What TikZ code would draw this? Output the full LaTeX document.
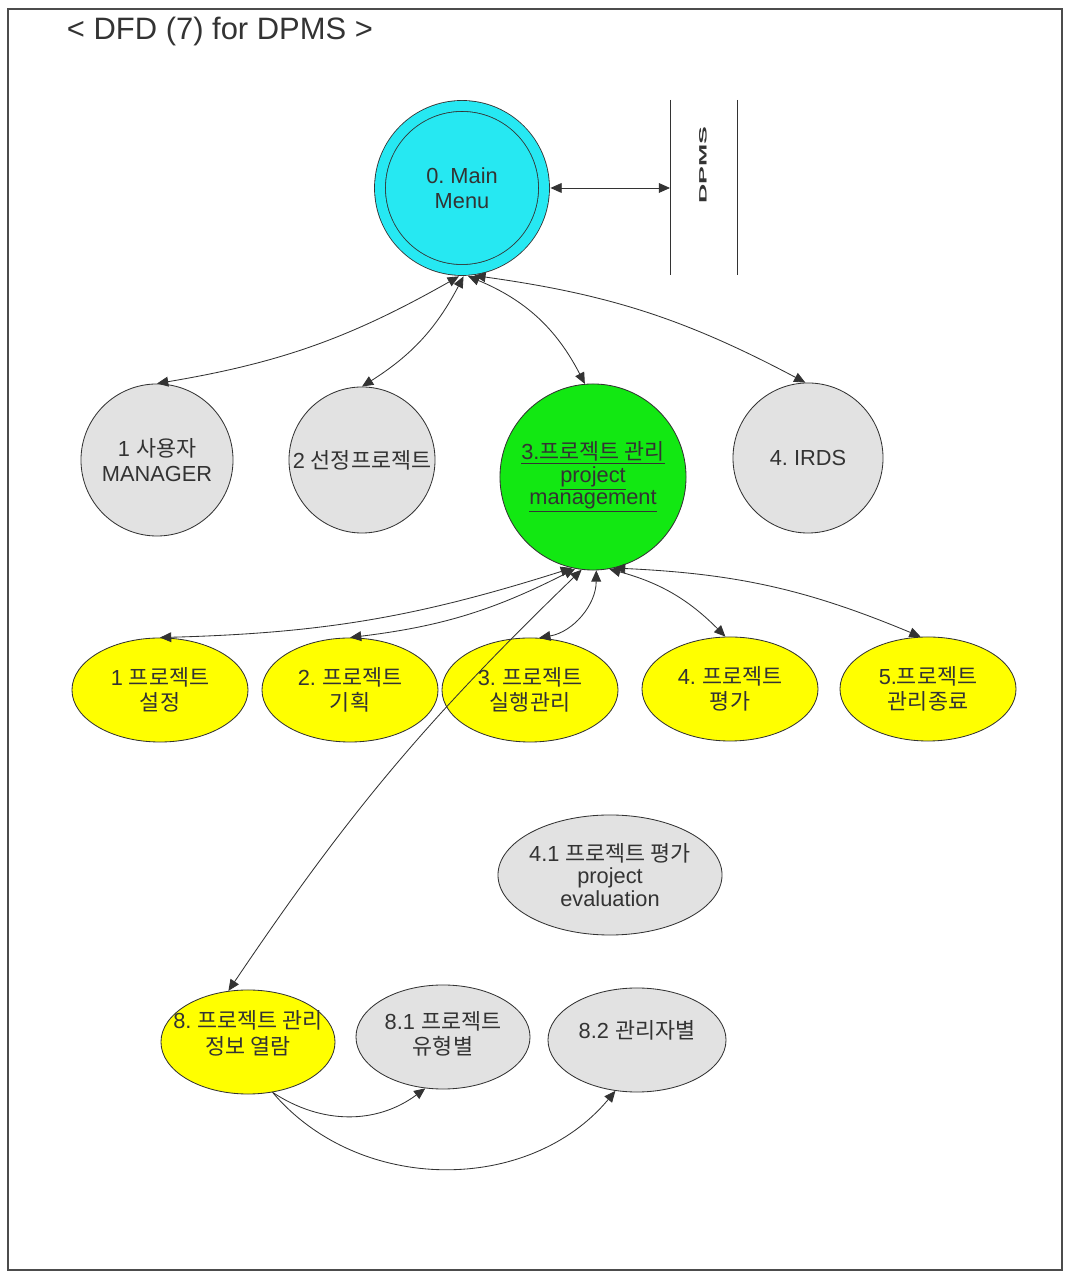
\documentclass[tikz,border=0pt]{standalone}
\usepackage{fontspec}
\setmainfont{Liberation Sans}
\newfontfamily\krfont{Noto Sans CJK KR}
\usetikzlibrary{shapes.geometric, arrows.meta}
\definecolor{menucyan}{RGB}{38,232,242}
\definecolor{pmgreen}{RGB}{18,232,18}
\definecolor{procyellow}{RGB}{255,255,0}
\definecolor{subgray}{RGB}{226,226,226}
\definecolor{inkgray}{RGB}{51,51,51}

\tikzset{
    proc/.style={draw=inkgray, line width=0.6pt, inner sep=0pt},
    disc/.style={proc, circle},
    oval/.style={proc, ellipse, minimum width=4.4cm, minimum height=2.6cm},
    txt/.style={align=center, text=inkgray, font=\fontsize{15.5}{18}\selectfont\frenchspacing},
    flow/.style={draw=inkgray, line width=0.6pt, >={Triangle[length=8pt,width=7pt]}, <->},
    oneway/.style={draw=inkgray, line width=0.6pt, >={Triangle[length=8pt,width=7pt]}, ->}
}

\begin{document}
\begin{tikzpicture}[x=0.025cm, y=0.025cm]
    \useasboundingbox (0,0) rectangle (1068,1274);
    \draw[black!70, line width=1pt] (8,4) rectangle (1062,1265);
    \node[anchor=west, text=inkgray, font=\fontsize{22}{22}\selectfont] (title) at (62,1242) {< DFD (7) for DPMS >};

    % Main menu and data store
    \node[disc, fill=menucyan, minimum size=4.1cm, double=menucyan, double distance=0.25cm, outer sep=0.16cm,
          label={[txt]center:0. Main\\Menu}] (main) at (462,1086) {};
    \draw[inkgray, line width=0.6pt] (670,1174) -- (670,999);
    \draw[inkgray, line width=0.6pt] (737,1174) -- (737,999);
    \node[rotate=90, yscale=0.4, text=inkgray, font=\fontsize{19}{19}\selectfont\bfseries] (dpms) at (703,1109) {DPMS};
    \coordinate (storeL) at (670,1086);
    \draw[flow] (main.east) -- (storeL);

    % First level
    \node[disc, fill=subgray, minimum size=3.8cm, label={[txt]center:1 {\krfont 사용자}\\MANAGER}] (mgr) at (157,814) {};
    \node[disc, fill=subgray, minimum size=3.65cm, label={[txt]center:2 {\krfont 선정프로젝트}}] (sel) at (362,814) {};
    \node[disc, fill=pmgreen, minimum size=4.65cm,
          label={[txt, font=\fontsize{15.5}{16}\selectfont]center:\underline{3.{\krfont 프로젝트 관리}}\\\underline{project}\\\underline{management}}] (pm) at (593,797) {};
    \node[disc, fill=subgray, minimum size=3.75cm, label={[txt]center:4. IRDS}] (irds) at (808,816) {};

    \draw[flow] (main.-92) to[bend left=10] (mgr.north);
    \draw[flow] (main.-89) to[bend left=15] (sel.north);
    \draw[flow] (main.-86) to[bend left=20] (pm.95);
    \draw[flow] (main.-82) to[bend left=10] (irds.92);

    % Project management steps
    \node[oval, fill=procyellow, label={[txt]center:1 {\krfont 프로젝트}\\{\krfont 설정}}] (setup) at (160,584) {};
    \node[oval, fill=procyellow, label={[txt]center:2. {\krfont 프로젝트}\\{\krfont 기획}}] (plan) at (350,584) {};
    \node[oval, fill=procyellow, label={[txt]center:3. {\krfont 프로젝트}\\{\krfont 실행관리}}] (exec) at (530,584) {};
    \node[oval, fill=procyellow, label={[txt]center:4. {\krfont 프로젝트}\\{\krfont 평가}}] (eval) at (730,585) {};
    \node[oval, fill=procyellow, label={[txt]center:5.{\krfont 프로젝트}\\{\krfont 관리종료}}] (close) at (928,585) {};

    \node[oval, fill=subgray, minimum width=5.6cm, minimum height=3cm,
          label={[txt, font=\fontsize{15.5}{16}\selectfont\frenchspacing]center:4.1 {\krfont 프로젝트 평가}\\project\\evaluation}] (peval) at (610,399) {};

    \node[oval, fill=procyellow, minimum width=4.35cm, label={[txt, yshift=0.22cm]center:8. {\krfont 프로젝트 관리}\\{\krfont 정보 열람}}] (browse) at (248,232) {};
    \node[oval, fill=subgray, minimum width=4.35cm, label={[txt, yshift=0.08cm]center:8.1 {\krfont 프로젝트}\\{\krfont 유형별}}] (bytype) at (443,237) {};
    \node[oval, fill=subgray, minimum width=4.45cm, label={[txt, yshift=0.25cm]center:8.2 {\krfont 관리자별}}] (bymgr) at (637,234) {};

    \draw[flow] (pm.-103) to[bend left=8] (setup.north);
    \draw[flow] (pm.-101) to[bend left=10] (plan.north);
    \draw[flow] (pm.-88) to[bend left=40] (exec.80);
    \draw[flow] (pm.-80) to[bend left=15] (eval.95);
    \draw[flow] (pm.-77) to[bend left=10] (close.98);
    \draw[flow] (pm.-97) to[bend right=6] (browse.111);

    % Browse by type / manager
    \draw[oneway] (browse.-64) to[bend right=35] (bytype.-109);
    \draw[oneway] (browse.-64) to[bend right=50] (bymgr.-113);
\end{tikzpicture}
\end{document}
